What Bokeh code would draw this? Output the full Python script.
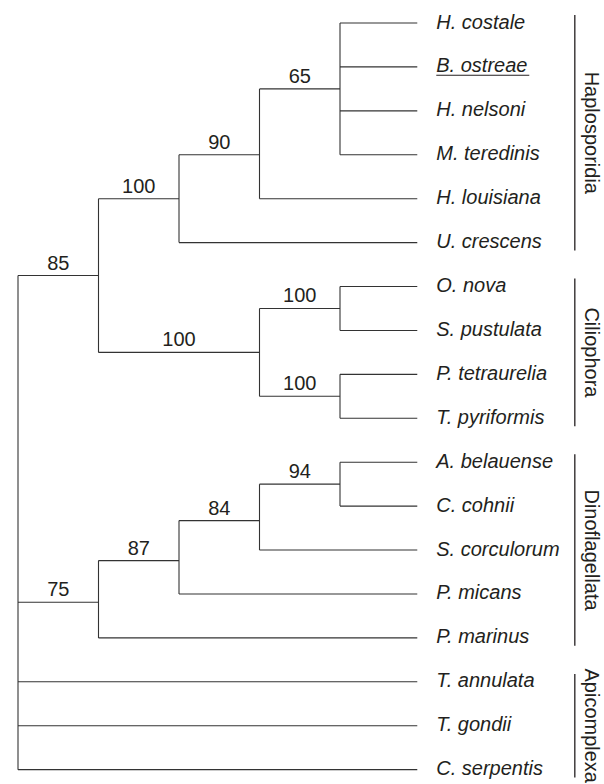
import math
from bokeh.plotting import figure
from bokeh.models import Range1d
from bokeh.core.properties import value
from bokeh.embed import file_html
from bokeh.resources import INLINE

# ---------------- data ----------------
leaf_names = ["H. costale", "B. ostreae", "H. nelsoni", "M. teredinis", "H. louisiana",
              "U. crescens", "O. nova", "S. pustulata", "P. tetraurelia", "T. pyriformis",
              "A. belauense", "C. cohnii", "S. corculorum", "P. micans", "P. marinus",
              "T. annulata", "T. gondii", "C. serpentis"]
leaf_parent = ["n65", "n65", "n65", "n65", "n90", "h100", "c1", "c1", "c2", "c2",
               "d94", "d94", "d84", "d87", "d75", "root", "root", "root"]
underlined = ["B. ostreae"]

node_ids = ["root", "n85", "h100", "n90", "n65", "c100", "c1", "c2", "d75", "d87", "d84", "d94"]
node_parent = [None, "root", "n85", "h100", "n90", "n85", "c100", "c100", "root", "d75", "d87", "d84"]
node_depth = [0, 1, 2, 3, 4, 3, 4, 4, 1, 2, 3, 4]
node_row = [None, 5.75, 4.0, 3.0, 1.5, 7.5, 6.5, 8.5, 13.19, 12.24, 11.33, 10.5]
node_support = [None, "85", "100", "90", "65", "100", "100", "100", "75", "87", "84", "94"]

group_names = ["Haplosporidia", "Ciliophora", "Dinoflagellata", "Apicomplexa"]
group_first = [0, 6, 10, 15]
group_last = [5, 9, 14, 17]

# ---------------- layout constants ----------------
W, H = 604, 784
X0, X_STEP = 17.5, 80.5     # px of depth 0, px per depth level
Y0, Y_STEP = 22.5, 43.92    # px of row 0, px per row
TIP = 4.96
BAR_X = 6.917
LINE_COLOR = "#333333"
TEXT_COLOR = "#231f20"
FONT = "Liberation Sans"


def dx(px):
    return px / X_STEP


def dy(px):
    return px / Y_STEP


p = figure(width=W, height=H, output_backend="svg", toolbar_location=None,
           x_range=Range1d(-X0 / X_STEP, (W - X0) / X_STEP),
           y_range=Range1d((H - Y0) / Y_STEP, -Y0 / Y_STEP),
           x_axis_location=None, y_axis_location=None, min_border=0)
p.grid.visible = False
p.outline_line_color = None
p.background_fill_color = "white"
p.border_fill_color = "white"

depth_of = dict(zip(node_ids, node_depth))

# children rows per node
children = {n: [] for n in node_ids}
for i, par in enumerate(leaf_parent):
    children[par].append(float(i))
for n, par, r in zip(node_ids, node_parent, node_row):
    if par is not None:
        children[par].append(r)

x0s, y0s, x1s, y1s = [], [], [], []
for i, par in enumerate(leaf_parent):
    x0s.append(depth_of[par]); x1s.append(TIP); y0s.append(i); y1s.append(i)
for n, par, d, r in zip(node_ids, node_parent, node_depth, node_row):
    if par is None:
        continue
    x0s.append(depth_of[par]); x1s.append(d); y0s.append(r); y1s.append(r)
for n, d in zip(node_ids, node_depth):
    rows = children[n]
    x0s.append(d); x1s.append(d); y0s.append(min(rows)); y1s.append(max(rows))

p.segment(x0=x0s, y0=y0s, x1=x1s, y1=y1s, line_color=LINE_COLOR, line_width=1.1)

# support values
sx, sy, st = [], [], []
for n, par, d, r, s in zip(node_ids, node_parent, node_depth, node_row, node_support):
    if par is None:
        continue
    sx.append((depth_of[par] + d) / 2.0); sy.append(r); st.append(s)
p.text(x=sx, y=sy, text=st, text_align="center", text_baseline="middle",
       y_offset=-13, text_font=value(FONT), text_font_size="20px", text_color=TEXT_COLOR)

# leaf labels
p.text(x=[TIP] * len(leaf_names), y=list(range(len(leaf_names))), text=leaf_names,
       x_offset=19, y_offset=-1.5, text_align="left", text_baseline="middle",
       text_font=value(FONT), text_font_size="20px", text_font_style="italic",
       text_color=TEXT_COLOR)

# underline
ux0, ux1, uy = [], [], []
for name in underlined:
    i = leaf_names.index(name)
    ux0.append(TIP + dx(19)); ux1.append(TIP + dx(112)); uy.append(i + dy(8.4))
p.segment(x0=ux0, y0=uy, x1=ux1, y1=uy, line_color=TEXT_COLOR, line_width=1.1)

# group bars and labels
PAD = 0.18
p.segment(x0=[BAR_X] * len(group_names), x1=[BAR_X] * len(group_names),
          y0=[f - PAD for f in group_first], y1=[l + PAD for l in group_last],
          line_color=TEXT_COLOR, line_width=1.3)
p.text(x=[BAR_X + dx(17.2)] * len(group_names),
       y=[(f + l) / 2.0 for f, l in zip(group_first, group_last)],
       text=group_names, angle=-math.pi / 2, text_align="center",
       text_baseline="middle", text_font=value(FONT), text_font_size="20px",
       text_color=TEXT_COLOR)

open("out.html", "w").write(file_html(p, INLINE))
